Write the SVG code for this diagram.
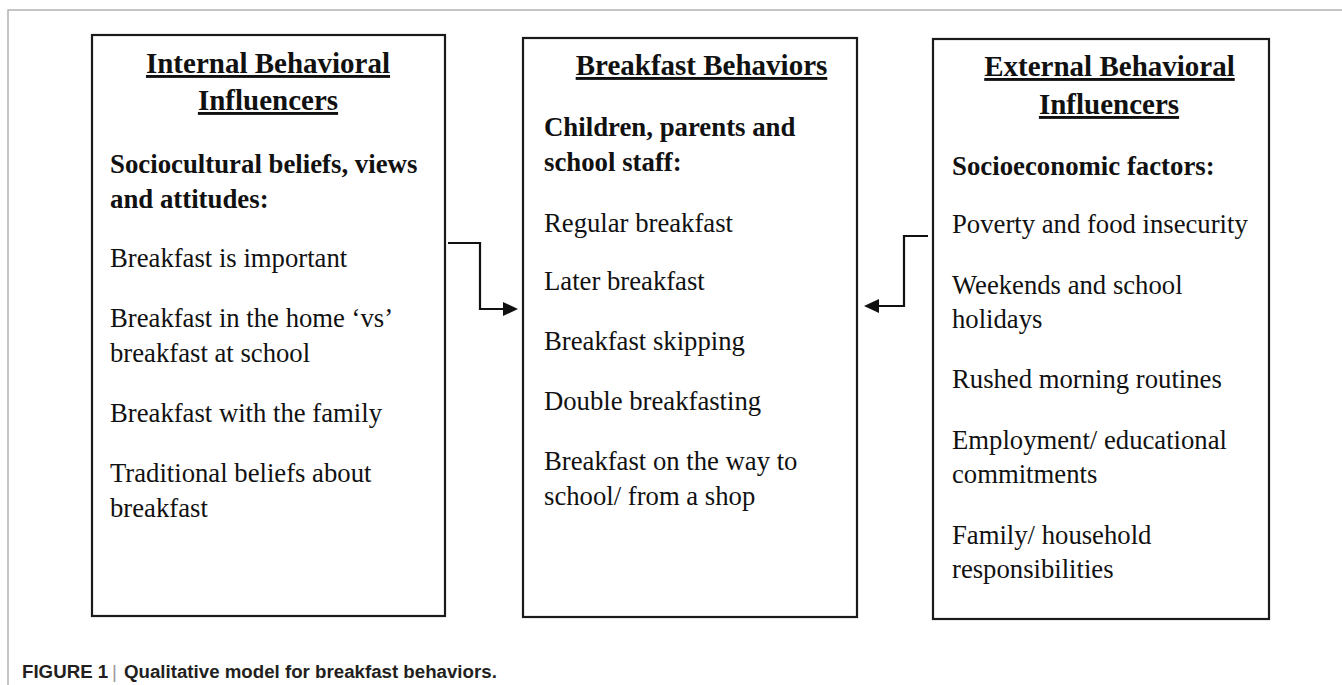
<svg xmlns="http://www.w3.org/2000/svg" width="1342" height="685" viewBox="0 0 1342 685">
<style>
  .frame { fill: none; stroke: #b3b3b3; stroke-width: 1.5; }
  .box { fill: #ffffff; stroke: #1a1a1a; stroke-width: 2.2; }
  .conn { fill: none; stroke: #111; stroke-width: 2.2; }
  .head { fill: #111; stroke: none; }
  text { font-family: "Liberation Serif", "Times New Roman", serif; fill: #111; }
  .title { font-size: 29px; font-weight: bold; text-decoration: underline; text-anchor: middle; }
  .sub { font-size: 26.8px; font-weight: bold; }
  .item { font-size: 26.7px; }
  .cap { font-family: "Liberation Sans", Arial, sans-serif; font-size: 18.7px; font-weight: bold; fill: #231f20; }
  .sep { font-family: "Liberation Sans", Arial, sans-serif; font-size: 18.7px; font-weight: normal; fill: #9a9a9a; }
</style>
<rect x="0" y="0" width="1342" height="685" fill="#ffffff"/>
<path class="frame" d="M8,685 V10 H1342"/>

<g id="internal">
  <rect class="box" x="92" y="35" width="353" height="581"/>
  <text class="title" x="268" y="73">Internal Behavioral</text>
  <text class="title" x="268" y="110">Influencers</text>
  <text class="sub" x="110" y="173">Sociocultural beliefs, views</text>
  <text class="sub" x="110" y="208">and attitudes:</text>
  <text class="item" x="110" y="267">Breakfast is important</text>
  <text class="item" x="110" y="327">Breakfast in the home ‘vs’</text>
  <text class="item" x="110" y="362">breakfast at school</text>
  <text class="item" x="110" y="422">Breakfast with the family</text>
  <text class="item" x="110" y="482">Traditional beliefs about</text>
  <text class="item" x="110" y="517">breakfast</text>
</g>

<g id="behaviors">
  <rect class="box" x="523" y="38" width="334" height="579"/>
  <text class="title" x="701.5" y="75">Breakfast Behaviors</text>
  <text class="sub" x="544" y="136">Children, parents and</text>
  <text class="sub" x="544" y="171">school staff:</text>
  <text class="item" x="544" y="232">Regular breakfast</text>
  <text class="item" x="544" y="290">Later breakfast</text>
  <text class="item" x="544" y="350">Breakfast skipping</text>
  <text class="item" x="544" y="410">Double breakfasting</text>
  <text class="item" x="544" y="470">Breakfast on the way to</text>
  <text class="item" x="544" y="505">school/ from a shop</text>
</g>

<g id="external">
  <rect class="box" x="933" y="39" width="336" height="580"/>
  <text class="title" x="1109.5" y="76">External Behavioral</text>
  <text class="title" x="1109" y="114">Influencers</text>
  <text class="sub" x="952" y="175">Socioeconomic factors:</text>
  <text class="item" x="952" y="233">Poverty and food insecurity</text>
  <text class="item" x="952" y="294">Weekends and school</text>
  <text class="item" x="952" y="328">holidays</text>
  <text class="item" x="952" y="388">Rushed morning routines</text>
  <text class="item" x="952" y="449">Employment/ educational</text>
  <text class="item" x="952" y="483">commitments</text>
  <text class="item" x="952" y="544">Family/ household</text>
  <text class="item" x="952" y="578">responsibilities</text>
</g>

<g id="connectors">
  <path class="conn" d="M448,243 H480 V309 H505"/>
  <polygon class="head" points="518,309 503,302 503,316"/>
  <path class="conn" d="M928,236 H904 V306 H877"/>
  <polygon class="head" points="864,306 879,299 879,313"/>
</g>

<g id="caption">
  <text class="cap" x="22" y="678">FIGURE 1</text>
  <text class="sep" x="112" y="678">|</text>
  <text class="cap" x="124" y="678">Qualitative model for breakfast behaviors.</text>
</g>
</svg>
